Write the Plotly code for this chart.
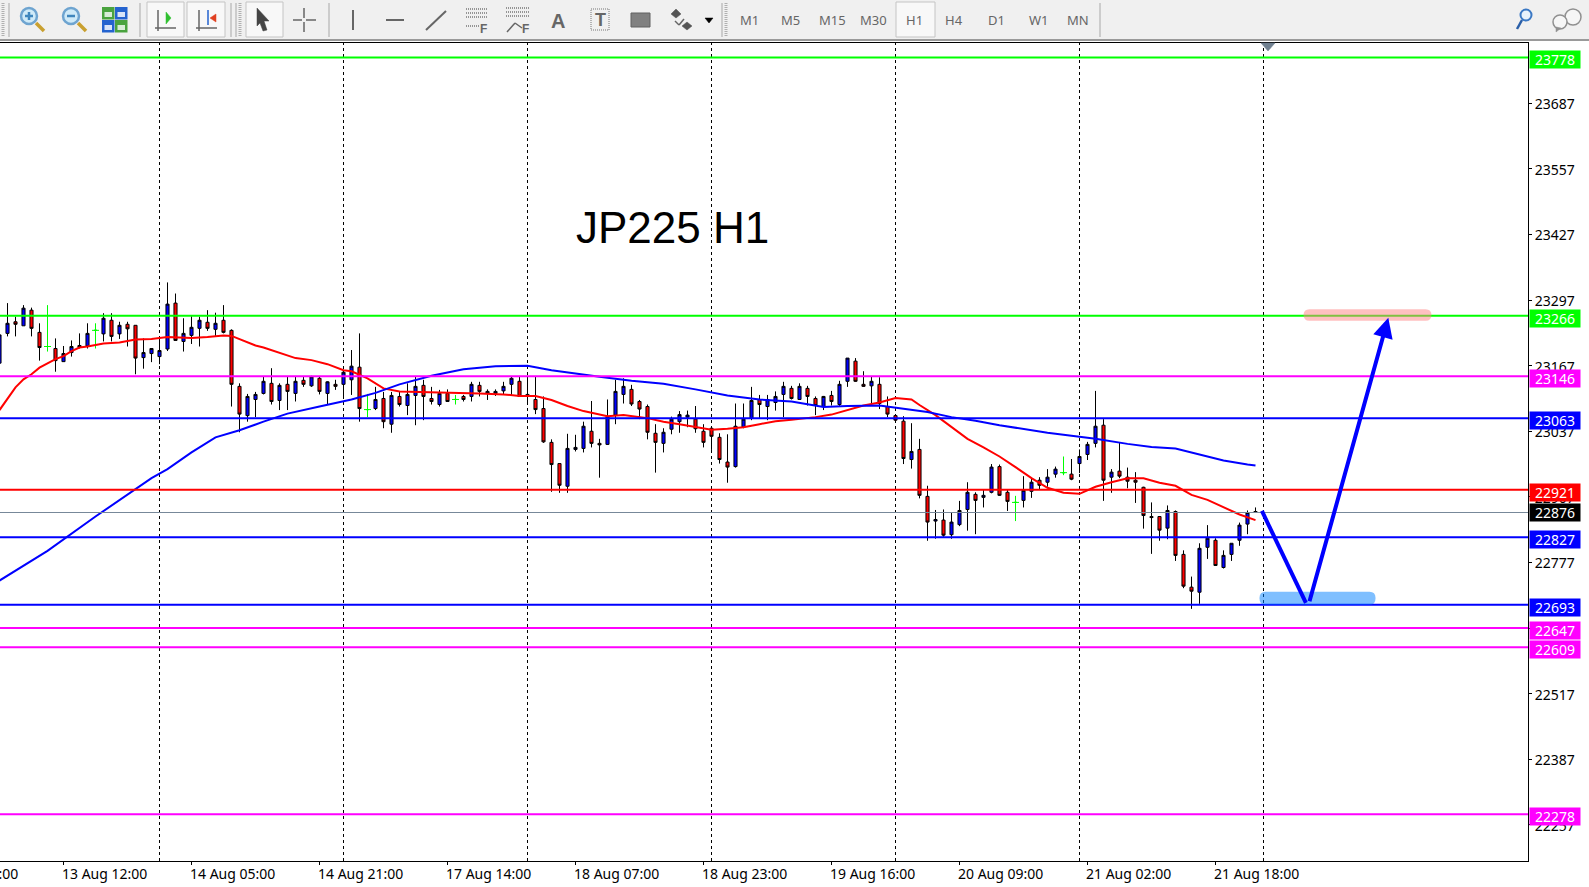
import plotly.graph_objects as go

# ---------- chart data ----------
opens = [23172,23231,23254,23246,23277,23233,23205,23201,23175,23193,
 23207,23206,23237,23230,23257,23230,23249,23247,23183,23191,
 23185,23200,23291,23215,23227,23241,23253,23239,23257,23237,
 23126,23068,23100,23112,23132,23098,23130,23112,23138,23127,
 23142,23112,23130,23130,23139,23164,23080,23082,23102,23051,
 23106,23088,23108,23128,23102,23090,23112,23100,23106,23106,
 23128,23112,23112,23117,23130,23136,23110,23100,23082,23015,
 22973,22928,23001,23003,23037,23013,23011,23069,23110,23120,
 23096,23086,23033,23013,23041,23056,23065,23061,23037,23043,
 23025,22976,22967,23045,23063,23100,23086,23094,23110,23122,
 23100,23122,23102,23086,23108,23090,23136,23176,23130,23127,
 23130,23086,23068,23057,22981,23001,22908,22859,22861,22832,
 22852,22882,22912,22906,22916,22967,22916,22896,22900,22918,
 22940,22936,22952,22955,22952,22973,22991,23013,23049,22946,
 22958,22946,22940,22926,22868,22868,22845,22878,22793,22728,
 22718,22807,22821,22767,22793,22821,22853,22878]
highs = [23231,23291,23264,23287,23282,23251,23287,23221,23206,23217,
 23231,23251,23251,23271,23271,23254,23254,23247,23221,23201,
 23221,23332,23310,23261,23265,23264,23277,23272,23287,23239,
 23132,23111,23115,23145,23162,23132,23145,23145,23145,23147,
 23145,23136,23139,23158,23198,23231,23111,23125,23115,23115,
 23116,23132,23145,23139,23125,23119,23120,23109,23109,23135,
 23135,23120,23120,23135,23145,23145,23147,23145,23106,23021,
 22973,23032,23030,23056,23097,23022,23100,23139,23142,23129,
 23099,23090,23051,23043,23066,23077,23078,23087,23051,23045,
 23033,23031,23092,23092,23125,23109,23109,23116,23135,23127,
 23132,23127,23106,23107,23117,23137,23182,23182,23156,23145,
 23144,23106,23069,23067,23053,23022,22929,22881,22882,22877,
 22899,22936,22916,22921,22972,22971,22921,22909,22948,22944,
 22946,22962,22967,22987,22982,23001,23016,23117,23061,22962,
 23015,22965,22956,22927,22896,22869,22890,22880,22801,22749,
 22815,22851,22825,22801,22815,22856,22880,22886]
lows = [23168,23225,23225,23246,23225,23177,23195,23155,23175,23185,
 23201,23201,23201,23215,23215,23220,23205,23150,23161,23174,
 23170,23196,23217,23195,23210,23205,23236,23226,23231,23086,
 23035,23056,23065,23110,23090,23079,23079,23096,23125,23125,
 23110,23089,23119,23104,23109,23056,23065,23079,23043,23034,
 23086,23069,23049,23059,23090,23086,23096,23090,23096,23096,
 23106,23099,23107,23109,23109,23106,23092,23071,23014,22917,
 22915,22915,22997,22995,23005,22945,23010,23051,23092,23087,
 23061,23021,22955,22995,23031,23034,23045,23034,23005,23000,
 22973,22935,22965,23043,23059,23063,23059,23078,23065,23100,
 23099,23088,23069,23079,23088,23087,23125,23135,23125,23092,
 23081,23065,23057,22972,22963,22904,22820,22824,22828,22824,
 22849,22840,22833,22886,22914,22909,22879,22859,22886,22905,
 22921,22927,22945,22950,22940,22954,22980,23005,22899,22915,
 22944,22924,22895,22844,22794,22820,22823,22780,22726,22685,
 22695,22784,22770,22765,22780,22810,22833,22876]
closes = [23228,23251,23249,23281,23241,23203,23205,23177,23191,23205,
 23203,23231,23237,23261,23225,23247,23240,23182,23193,23201,
 23197,23289,23217,23231,23243,23257,23241,23251,23233,23130,
 23071,23106,23110,23136,23096,23128,23116,23136,23130,23145,
 23116,23135,23126,23154,23166,23082,23080,23100,23056,23108,
 23090,23110,23126,23106,23096,23112,23096,23100,23100,23130,
 23116,23116,23116,23126,23142,23106,23108,23080,23016,22971,
 22930,23003,23005,23047,23013,23010,23066,23116,23126,23091,
 23081,23035,23015,23035,23061,23070,23069,23042,23015,23027,
 22981,22966,23047,23061,23098,23090,23100,23106,23126,23102,
 23126,23106,23088,23106,23096,23130,23182,23136,23126,23136,
 23092,23071,23059,22983,22997,22910,22857,22862,22831,22857,
 22880,22916,22900,22910,22966,22910,22898,22896,22920,22936,
 22930,22946,22962,22955,22942,22987,23011,23047,22940,22956,
 22948,22938,22936,22870,22866,22841,22880,22791,22730,22720,
 22805,22825,22771,22791,22815,22851,22876,22876]

red_ma_bars = [0,2,3,4,5,6,7,8,9,10,11,13,15,17,19,21,24,26,28,29,30,32,33,35,37,39,41,43,44,46,48,50,
 54,57,60,63,65,67,69,71,73,76,78,81,83,85,87,89,91,93,95,97,99,102,104,106,108,110,112,114,115,117,119,
 121,123,125,127,129,131,133,135,137,139,141,143,145,147,149,151,153,155,157]
red_ma = [23079,23124,23140,23150,23163,23172,23180,23186,23196,23203,23205,23211,23213,23219,23220,23224,23222,23224,23227,23226,23220,23207,23203,23193,23182,23178,23170,23158,23156,23142,23122,23116,
 23115,23114,23112,23110,23107,23107,23099,23087,23077,23067,23069,23063,23056,23051,23045,23040,23042,23045,23051,23057,23060,23065,23070,23079,23088,23094,23103,23100,23089,23069,23046,
 23022,23005,22987,22966,22944,22925,22915,22913,22927,22936,22944,22944,22935,22929,22911,22901,22886,22872,22861]

blue_ma_bars = [0,6,12,16,19,21,24,27,30,33,36,40,44,47,50,54,58,62,66,69,72,75,79,83,87,91,95,99,
 103,106,110,113,116,119,122,125,128,131,134,137,141,144,147,150,153,156,157]
blue_ma = [22741,22800,22868,22912,22944,22962,22995,23025,23039,23056,23072,23086,23100,23113,23130,23147,23160,23166,23167,23158,23151,23145,23137,23131,23120,23108,23100,23096,
 23085,23087,23088,23082,23075,23065,23058,23049,23041,23034,23028,23022,23012,23006,23003,22991,22979,22971,22969]

level_values = [23778, 23266, 23146, 23063, 22921, 22827, 22693, 22647, 22609, 22278]
level_colors = ["#00ff00","#00ff00","#ff00ff","#0000ff","#ff0000","#0000ff","#0000ff","#ff00ff","#ff00ff","#ff00ff"]
bid_price = 22876

y_ticks = [23687,23557,23427,23297,23167,23037,22907,22777,22647,22517,22387,22257]
x_tick_bars = [8,24,40,56,72,88,104,120,136,152]
x_tick_labels = ["13 Aug 12:00","14 Aug 05:00","14 Aug 21:00","17 Aug 14:00","18 Aug 07:00",
                 "18 Aug 23:00","19 Aug 16:00","20 Aug 09:00","21 Aug 02:00","21 Aug 18:00"]
clipped_label = "12 Aug 20:00"
grid_bars = [20,43,66,89,112,135,158]
timeframes = ["M1","M5","M15","M30","H1","H4","D1","W1","MN"]
timeframe_px = [749,790,832,873,914,954,996,1039,1078]

# forecast drawing (bar, price)
fall_bars, fall_prices = [157.8,163.3],[22879,22697]
rise_bars, rise_prices = [163.7,173.6],[22697,23262]
zone_low = (157.5,172.0,22693,22719)
zone_high = (163.0,179.0,23256,23279)

# ---------- geometry of the page ----------
W,H = 1589,887
L,R,T,B = 0,1528,43,861
def PX(p): return (p-L)/(R-L)
def PY(p): return (B-p)/(B-T)

bars = list(range(len(opens)))
doji = [o==c for o,c in zip(opens,closes)]
def pick(vals,want): return [v if d==want else None for v,d in zip(vals,doji)]

fig = go.Figure()
fig.add_trace(go.Candlestick(x=bars,open=pick(opens,False),high=pick(highs,False),low=pick(lows,False),close=pick(closes,False),
    increasing=dict(line=dict(color="#000000",width=1),fillcolor="#0000ff"),
    decreasing=dict(line=dict(color="#000000",width=1),fillcolor="#ff0000"),showlegend=False,name="JP225"))
fig.add_trace(go.Candlestick(x=bars,open=pick(opens,True),high=pick(highs,True),low=pick(lows,True),close=pick(closes,True),
    increasing=dict(line=dict(color="#00ff00",width=1),fillcolor="#00ff00"),
    decreasing=dict(line=dict(color="#00ff00",width=1),fillcolor="#00ff00"),showlegend=False,name="doji"))
fig.add_trace(go.Scatter(x=bars,y=pick(closes,True),mode="markers",showlegend=False,name="doji close",
    marker=dict(symbol="line-ew",size=5,line=dict(color="#00ff00",width=1))))
fig.add_trace(go.Scatter(x=red_ma_bars,y=red_ma,mode="lines",line=dict(color="#ff0000",width=2),showlegend=False,name="MA fast"))
fig.add_trace(go.Scatter(x=blue_ma_bars,y=blue_ma,mode="lines",line=dict(color="#0000ff",width=2),showlegend=False,name="MA slow"))

shapes=[]
for b in grid_bars:
    shapes.append(dict(type="line",xref="x",yref="paper",x0=b,x1=b,y0=0,y1=1,layer="below",
                       line=dict(color="#000000",width=1,dash="3px,3px")))
for v,c in zip(level_values,level_colors):
    shapes.append(dict(type="line",xref="paper",yref="y",x0=0,x1=1,y0=v,y1=v,line=dict(color=c,width=2)))
shapes.append(dict(type="line",xref="paper",yref="y",x0=0,x1=1,y0=bid_price,y1=bid_price,line=dict(color="#778899",width=1)))

def rounded(x0,x1,y0,y1,rx=0.75,ry=12):
    return (f"M {x0+rx},{y0} L {x1-rx},{y0} Q {x1},{y0} {x1},{y0+ry} L {x1},{y1-ry} Q {x1},{y1} {x1-rx},{y1} "
            f"L {x0+rx},{y1} Q {x0},{y1} {x0},{y1-ry} L {x0},{y0+ry} Q {x0},{y0} {x0+rx},{y0} Z")
shapes.append(dict(type="path",xref="x",yref="y",path=rounded(*zone_low),fillcolor="rgba(0,127,255,0.5)",line=dict(width=0)))
shapes.append(dict(type="path",xref="x",yref="y",path=rounded(*zone_high),fillcolor="rgba(255,129,129,0.5)",line=dict(width=0)))
shapes.append(dict(type="line",xref="x",yref="y",x0=fall_bars[0],x1=fall_bars[1],y0=fall_prices[0],y1=fall_prices[1],line=dict(color="#0000ff",width=4)))

# ---------- toolbar helpers (page pixels) ----------
def rect(x0,y0,x1,y1,fill=None,line=None,lw=1,dash=None):
    ln=dict(color=line or "rgba(0,0,0,0)",width=lw if line else 0)
    if dash: ln["dash"]=dash
    shapes.append(dict(type="rect",xref="paper",yref="paper",x0=PX(x0),x1=PX(x1),y0=PY(y0),y1=PY(y1),
                       fillcolor=fill or "rgba(0,0,0,0)",line=ln))
def seg(x0,y0,x1,y1,color="#666666",lw=1.5,dash=None):
    ln=dict(color=color,width=lw)
    if dash: ln["dash"]=dash
    shapes.append(dict(type="line",xref="paper",yref="paper",x0=PX(x0),x1=PX(x1),y0=PY(y0),y1=PY(y1),line=ln))
def circ(cx,cy,r,fill=None,line=None,lw=1.5):
    shapes.append(dict(type="circle",xref="paper",yref="paper",x0=PX(cx-r),x1=PX(cx+r),y0=PY(cy+r),y1=PY(cy-r),
                       fillcolor=fill or "rgba(0,0,0,0)",line=dict(color=line or "rgba(0,0,0,0)",width=lw if line else 0)))
def poly(pts,fill,line=None):
    p="M "+" L ".join(f"{PX(x)},{PY(y)}" for x,y in pts)+" Z"
    shapes.append(dict(type="path",xref="paper",yref="paper",path=p,fillcolor=fill,line=dict(color=line or fill,width=0.5)))

rect(0,0,W,39,fill="#f0f0f0")
rect(0,39,W,41,fill="#9a9a9a")
for x in (140,236,329,1100): seg(x,3,x,37,"#a8a8a8",1)
seg(9,3,9,37,"#a8a8a8",1); seg(231,3,231,37,"#a8a8a8",1); seg(722,3,722,37,"#a8a8a8",1)
for x in (3,240,726): seg(x,3,x,37,"#b0b0b0",3,"1px,1px")
for x0,x1 in ((147,184),(187,225),(246,283),(896,935)):
    rect(x0,2,x1,37,fill="#f8f8f8",line="#c4c4c4",lw=1)
# zoom in / zoom out
for cx,sign in ((29,"+"),(71,"-")):
    seg(cx+7,23,cx+15,31,"#c9a030",3.5)
    circ(cx,16,8,fill="#cfeaf8",line="#6ea4d0",lw=2.5)
    seg(cx-4,16,cx+4,16,"#3f86bd",2.5)
    if sign=="+": seg(cx,12,cx,20,"#3f86bd",2.5)
# tiles
for x0,y0,c in ((102,7,"#4aa33f"),(115,7,"#2463cf"),(102,20,"#2463cf"),(115,20,"#4aa33f")):
    rect(x0,y0,x0+12.5,y0+12.5,fill=c)
    rect(x0+2.5,y0+5,x0+10,y0+10,fill="#d8ecd8" if c=="#4aa33f" else "#d8e4f8")
# chart shift icons
seg(158,10,158,31); seg(155,28,176,28)
poly([(166,12),(171,18),(166,24)],"#30c030")
seg(199,10,199,31); seg(196,28,217,28); seg(208,10,208,25,"#2463cf",1.5)
poly([(210,18),(216,14),(216,22)],"#e04020")
# cursor + crosshair
poly([(257,8),(269,21),(264,21),(267,30),(263,31),(260,23),(257,26)],"#444444")
seg(293,20,302,20); seg(306,20,316,20); seg(304,8,304,18); seg(304,22,304,32)
# line tools
seg(353,10,353,30,"#666666",2); seg(386,20,404,20,"#666666",2); seg(426,30,446,11,"#666666",2)
for y in (9,13,17): seg(466,y,487,y,"#777777",1.5,"1px,1px")
seg(466,26,480,26,"#777777",1.5,"1px,1px")
for y in (8,12,16): seg(506,y,529,y,"#777777",1.5,"1px,1px")
seg(507,32,515,23,"#666666",1.5); seg(515,23,522,28,"#666666",1.5)
rect(591,9,609,30,line="#777777",lw=1,dash="1px,1px")
rect(631,13,650,27,fill="#808080",line="#606060",lw=1)
poly([(676,9),(681,14),(676,18),(671,14)],"#555555"); poly([(687,22),(692,26),(687,30),(682,26)],"#555555")
seg(675,21,679,25); seg(679,25,684,19)
poly([(705,18),(713,18),(709,23)],"#000000")
# search + chat
seg(1522,20,1517,29,"#2a5fa8",2.5); circ(1526,15,5.5,fill="#e8f2fb",line="#3a78c4",lw=2)
circ(1573,17,8,fill="#f6f6f6",line="#909090",lw=1.5); circ(1560,22,7,fill="#f6f6f6",line="#909090",lw=1.5)
poly([(1556,27),(1561,28),(1556,32)],"#909090")
# marker at the top of the chart
poly([(1261,43),(1275,43),(1268,51)],"#708090")

annotations=[]
TK=dict(family="Noto Sans",color="#000000",size=14)
for b,t in zip(x_tick_bars,x_tick_labels):
    annotations.append(dict(x=b,xref="x",y=PY(873),yref="paper",text=t,showarrow=False,xanchor="left",yanchor="middle",font=TK,xshift=-4))
annotations.append(dict(x=PX(-69),xref="paper",y=PY(873),yref="paper",text=clipped_label,showarrow=False,xanchor="left",yanchor="middle",font=TK))

for v,c in list(zip(level_values,level_colors))+[(bid_price,"#000000")]:
    annotations.append(dict(x=PX(1555),xref="paper",y=v,yref="y",yshift=0 if v==bid_price else -2.6,text=str(v),showarrow=False,
        xanchor="center",yanchor="middle",width=50,height=17,bgcolor=c,borderpad=0,align="center",
        font=dict(family="Noto Sans",size=14,color="#ffffff")))

annotations.append(dict(x=PX(672),xref="paper",y=PY(227),yref="paper",text="JP225 H1",showarrow=False,xanchor="center",yanchor="middle",
    font=dict(family="Liberation Sans",size=44,color="#000000")))

annotations.append(dict(x=rise_bars[1],y=rise_prices[1],ax=rise_bars[0],ay=rise_prices[0],xref="x",yref="y",axref="x",ayref="y",
    text="",showarrow=True,arrowhead=2,arrowsize=1,arrowwidth=4,arrowcolor="#0000ff",standoff=0))

for t,x in zip(timeframes,timeframe_px):
    annotations.append(dict(x=PX(x),xref="paper",y=PY(20),yref="paper",text=t,showarrow=False,xanchor="center",yanchor="middle",
        font=dict(family="Noto Sans",size=13,color="#666666")))
for t,x,y,s in (("F",484,29,12),("F",525,29,12),("A",558,21,20),("T",600,20,18)):
    annotations.append(dict(x=PX(x),xref="paper",y=PY(y),yref="paper",text=f"<b>{t}</b>",showarrow=False,xanchor="center",yanchor="middle",
        font=dict(family="Liberation Sans",size=s,color="#666666")))

fig.update_layout(
    width=W,height=H,margin=dict(l=L,r=W-R,t=T,b=H-B,autoexpand=False),
    paper_bgcolor="#ffffff",plot_bgcolor="#ffffff",showlegend=False,boxgap=0.45,boxmode="overlay",
    hovermode=False,dragmode=False,
    xaxis=dict(range=[0.0625,191.0625],rangeslider=dict(visible=False),showgrid=False,zeroline=False,
               tickmode="array",tickvals=x_tick_bars,ticktext=x_tick_labels,showticklabels=False,
               ticks="outside",ticklen=3,tickcolor="#000000",tickwidth=1,
               showline=True,linecolor="#000000",linewidth=1,mirror=True,automargin=False),
    yaxis=dict(range=[22185.3,23806.5],side="right",showgrid=False,zeroline=False,
               tickmode="array",tickvals=y_ticks,ticktext=[str(v) for v in y_ticks],
               ticks="outside",ticklen=3,tickcolor="#000000",tickwidth=1,ticklabelshift=1,
               tickfont=dict(family="Noto Sans",size=14,color="#000000"),
               showline=True,linecolor="#000000",linewidth=1,automargin=False),
    shapes=shapes,annotations=annotations)

fig.write_html("out.html",post_script="document.body.style.margin='0';document.body.style.overflow='hidden';",
               config=dict(displayModeBar=False,staticPlot=True))
